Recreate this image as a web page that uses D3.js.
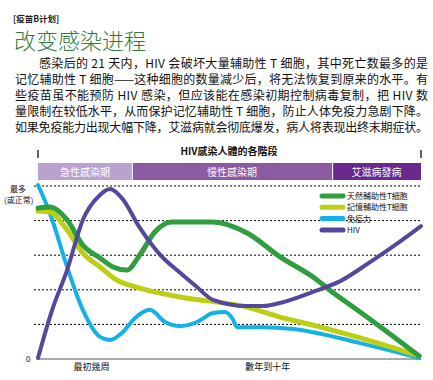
<!DOCTYPE html>
<html>
<head>
<meta charset="utf-8">
<script src="https://cdn.jsdelivr.net/npm/d3@7"></script>
<style>
  body { margin: 0; background: #fff; }
  svg { display: block; }
</style>
</head>
<body>
<div id="chart"></div>
<script>
// Article text
const kicker = "[疫苗B计划]";
const headline = "改变感染进程";
const paragraph = [
    "感染后的 21 天内，HIV 会破坏大量辅助性 T 细胞，其中死亡数最多的是",
    "记忆辅助性 T 细胞——这种细胞的数量减少后，将无法恢复到原来的水平。有",
    "些疫苗虽不能预防 HIV 感染，但应该能在感染初期控制病毒复制，把 HIV 数",
    "量限制在较低水平，从而保护记忆辅助性 T 细胞，防止人体免疫力急剧下降。",
    "如果免疫能力出现大幅下降，艾滋病就会彻底爆发，病人将表现出终末期症状。"
];

// Chart data (time 0-100, level 0-5)
const chartTitle = "HIV感染人體的各階段";
const phases = [
    { name: "急性感染期", from: 0, to: 24.5, color: "#b9a2cf" },
    { name: "慢性感染期", from: 24.5, to: 76.8, color: "#8a5ba2" },
    { name: "艾滋病發病", from: 76.8, to: 100, color: "#6a2a8b" }
];
const gridValues = [1, 2, 3, 4, 5];
const xLabels = [{ t: 14, text: "最初幾周" }, { t: 60, text: "數年到十年" }];

const naiveT = [
    [0, 4.36], [3.1, 4.39], [7.6, 4.02], [11.7, 3.29], [16.2, 2.92], [19.6, 2.66],
    [23.2, 2.57], [26.6, 3.01], [30.5, 3.67], [34.9, 3.96], [45.7, 3.96], [54.6, 3.64],
    [63.2, 2.95], [71.8, 2.37], [76.2, 1.99], [84.1, 1.36], [91.9, 0.72], [99.5, 0.09]
];
const memoryT = [
    [0, 4.28], [3.1, 4.25], [7.6, 3.73], [11.7, 3.06], [16.2, 2.66], [20.6, 2.28],
    [26.6, 2.05], [37.1, 1.79], [54.6, 1.5], [63.2, 1.21], [71.8, 0.98], [84.1, 0.61],
    [99.5, 0.09]
];
const immunity = [
    [0, 5.03], [3.1, 4.22], [7.6, 2.66], [11.7, 1.42], [16.2, 0.64], [18.8, 0.55],
    [21.9, 0.75], [25.3, 1.18], [29.2, 1.42], [33.2, 1.07], [37.1, 0.95], [41.5, 1.07],
    [45.7, 1.33], [48.8, 1.36], [50.7, 1.18], [52, 0.92], [58.7, 0.92], [66.6, 0.87],
    [84.1, 0.46], [99.5, 0.03]
];
const hiv = [
    [0, 0.03], [3.7, 1.42], [7.6, 2.57], [11.7, 4.02], [16.2, 4.74], [18.8, 4.91],
    [21.9, 4.65], [26.6, 3.79], [31.9, 3.01], [37.1, 2.49], [41.5, 2.08], [45.7, 1.71],
    [54.6, 1.53], [58.7, 1.53], [63.2, 1.62], [71.8, 1.94], [78.9, 2.25], [86.7, 2.8],
    [93.2, 3.29], [100, 3.84]
];

const series = [
    { name: "天然輔助性T細胞", values: naiveT, color: "#2f9e3f", width: 5 },
    { name: "記憶輔助性T細胞", values: memoryT, color: "#bccf12", width: 5 },
    { name: "免疫力", values: immunity, color: "#12b2e6", width: 4 },
    { name: "HIV", values: hiv, color: "#55479c", width: 4 }
];
const drawOrder = [2, 1, 0, 3];

const width = 433;
const height = 380;
const cjkSC = "'Noto Sans CJK SC', sans-serif";
const cjkTC = "'Noto Sans CJK TC', sans-serif";

const svg = d3.select("#chart").append("svg")
    .attr("width", width)
    .attr("height", height)
    .attr("viewBox", [0, 0, width, height]);

// Header
svg.append("text")
    .attr("x", 13).attr("y", 22)
    .attr("font-family", cjkSC)
    .attr("font-size", "8.5px")
    .attr("font-weight", "bold")
    .attr("fill", "#222")
    .text(kicker);

svg.append("text")
    .attr("x", 14).attr("y", 49)
    .attr("font-family", cjkSC)
    .attr("font-size", "22px")
    .attr("font-weight", 300)
    .attr("fill", "#2e7d3a")
    .text(headline);

// Paragraph, justified to the column width
paragraph.forEach((line, i) => {
    const x0 = i === 0 ? 39 : 15;
    svg.append("text")
        .attr("x", x0)
        .attr("y", 68 + i * 16)
        .attr("font-family", cjkSC)
        .attr("font-size", "12px")
        .attr("fill", "#111")
        .attr("textLength", 428 - x0)
        .attr("lengthAdjust", "spacing")
        .text(line);
});

// Scales
const x = d3.scaleLinear([0, 100], [38, 421]);
const y = d3.scaleLinear([0, 5], [359, 186]);

// Chart title and end ticks
svg.append("text")
    .attr("x", 229).attr("y", 155)
    .attr("text-anchor", "middle")
    .attr("font-family", cjkTC)
    .attr("font-size", "10px")
    .attr("font-weight", "bold")
    .attr("fill", "#111")
    .text(chartTitle);

svg.selectAll(".end-tick")
    .data([0, 100])
    .join("line")
    .attr("class", "end-tick")
    .attr("x1", d => x(d)).attr("x2", d => x(d))
    .attr("y1", 150).attr("y2", 158)
    .attr("stroke", "#000")
    .attr("stroke-width", 1.2);

// Phase bar
const phaseG = svg.append("g");
phaseG.selectAll("rect")
    .data(phases)
    .join("rect")
    .attr("x", d => x(d.from) + (d.from > 0 ? 1 : 0))
    .attr("y", 163)
    .attr("width", d => x(d.to) - x(d.from) - (d.from > 0 ? 1 : 0))
    .attr("height", 17)
    .attr("fill", d => d.color);

phaseG.selectAll("text")
    .data(phases)
    .join("text")
    .attr("x", d => (x(d.from) + x(d.to)) / 2)
    .attr("y", 175.5)
    .attr("text-anchor", "middle")
    .attr("font-family", cjkTC)
    .attr("font-size", "10px")
    .attr("fill", "#fff")
    .text(d => d.name);

// Grid
svg.append("g")
    .selectAll("line")
    .data(gridValues)
    .join("line")
    .attr("x1", x(0) - 4).attr("x2", x(100))
    .attr("y1", d => y(d)).attr("y2", d => y(d))
    .attr("stroke", "#000")
    .attr("stroke-width", 1)
    .attr("stroke-dasharray", "2,2");

svg.append("line")
    .attr("x1", x(0)).attr("x2", x(100))
    .attr("y1", y(0)).attr("y2", y(0))
    .attr("stroke", "#555")
    .attr("stroke-width", 1.2);

// Axis labels
svg.append("text")
    .attr("x", 10).attr("y", 192)
    .attr("font-family", cjkTC).attr("font-size", "8px").attr("fill", "#111")
    .text("最多");
svg.append("text")
    .attr("x", 4).attr("y", 203)
    .attr("font-family", cjkTC).attr("font-size", "8px").attr("fill", "#111")
    .text("(或正常)");
svg.append("text")
    .attr("x", 26).attr("y", 362)
    .attr("font-family", cjkTC).attr("font-size", "8px").attr("fill", "#111")
    .text("0");

svg.append("g")
    .selectAll("text")
    .data(xLabels)
    .join("text")
    .attr("x", d => x(d.t))
    .attr("y", 370)
    .attr("text-anchor", "middle")
    .attr("font-family", cjkTC)
    .attr("font-size", "9px")
    .attr("fill", "#111")
    .text(d => d.text);

// Curves
const line = d3.line()
    .x(d => x(d[0]))
    .y(d => y(d[1]))
    .curve(d3.curveMonotoneX);

svg.append("g")
    .selectAll("path")
    .data(drawOrder.map(i => series[i]))
    .join("path")
    .attr("d", d => line(d.values))
    .attr("fill", "none")
    .attr("stroke", d => d.color)
    .attr("stroke-width", d => d.width)
    .attr("stroke-linecap", "round")
    .attr("stroke-linejoin", "round");

// Legend
const legend = svg.append("g")
    .selectAll("g")
    .data(series)
    .join("g")
    .attr("transform", (d, i) => `translate(322,${196 + i * 11.3})`);

legend.append("line")
    .attr("x1", 0).attr("x2", 21)
    .attr("stroke", d => d.color)
    .attr("stroke-width", 5)
    .attr("stroke-linecap", "round");

legend.append("text")
    .attr("x", 25).attr("y", 3)
    .attr("font-family", cjkTC)
    .attr("font-size", "8px")
    .attr("fill", "#111")
    .text(d => d.name);
</script>
</body>
</html>
